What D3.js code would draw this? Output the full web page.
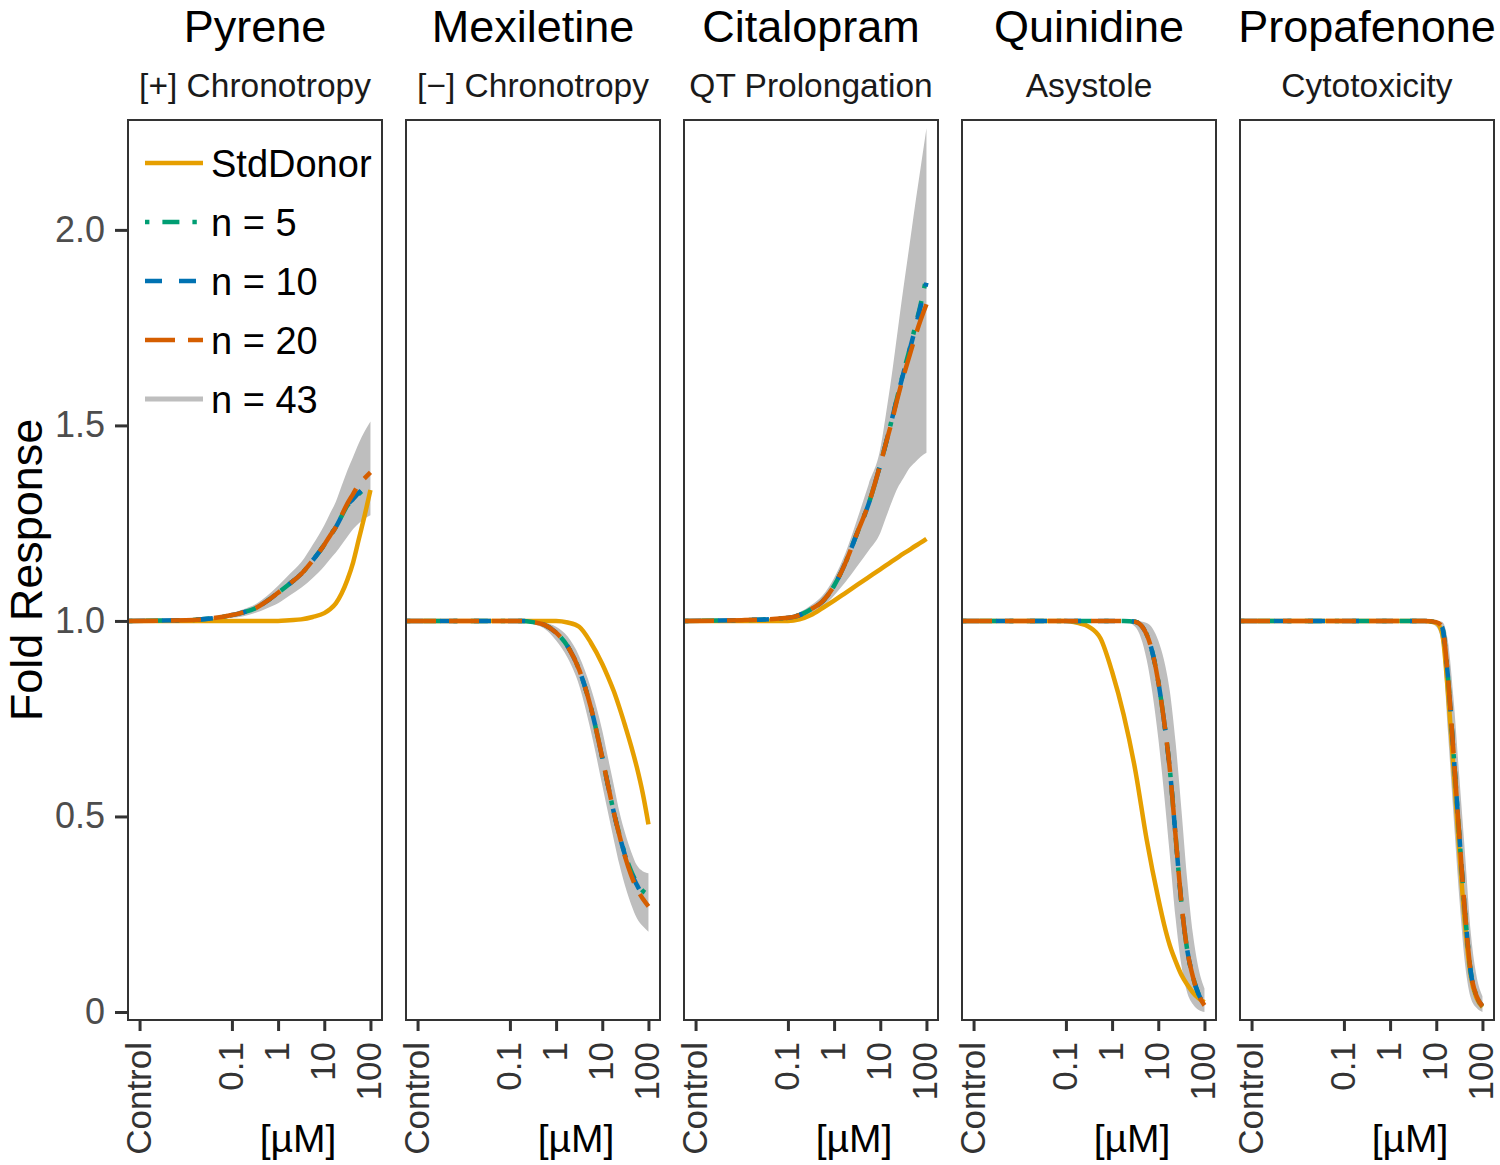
<!DOCTYPE html>
<html><head><meta charset="utf-8">
<script src="https://cdn.jsdelivr.net/npm/d3@7"></script>
<style>
body{margin:0;background:#fff}
svg{display:block}
text{font-family:"Liberation Sans",Arial,Helvetica,sans-serif}
</style>
</head><body>
<svg id="c" width="1500" height="1165"></svg>
<script>
// ---------- data ----------
const drugs = ["Pyrene","Mexiletine","Citalopram","Quinidine","Propafenone"];
const endpoints = ["[+] Chronotropy","[\u2212] Chronotropy","QT Prolongation","Asystole","Cytotoxicity"];
const seriesNames = ["StdDonor","n = 5","n = 10","n = 20","n = 43"];
const xTickValues = [0.001, 0.1, 1, 10, 100];
const xTickLabels = ["Control","0.1","1","10","100"];
const yTickValues = [0, 0.5, 1, 1.5, 2];
const yTickLabels = ["0","0.5","1.0","1.5","2.0"];

// concentration grid (uM)
const conc = [0.000562, 0.01, 0.1, 0.178, 0.316, 0.562, 1, 1.78, 3.16, 5.62, 10, 13.3, 17.8, 23.7, 31.6, 42.2, 56.2, 75, 100];

const pyreneStd = [1,1,1,1,1,1,1,1.002,1.004,1.01,1.02,1.03,1.045,1.07,1.105,1.15,1.21,1.27,1.335];
const pyreneN5  = [1,1.002,1.015,1.022,1.032,1.05,1.072,1.095,1.12,1.155,1.195,1.218,1.24,1.268,1.295,1.31,1.325,1.338,1.345];
const pyreneN10 = [1,1.002,1.015,1.022,1.032,1.05,1.072,1.095,1.12,1.155,1.195,1.218,1.24,1.268,1.296,1.312,1.328,1.341,1.35];
const pyreneN20 = [1,1.002,1.015,1.022,1.032,1.05,1.072,1.095,1.12,1.155,1.195,1.218,1.24,1.27,1.30,1.325,1.35,1.365,1.38];
const pyreneHi  = [1,1.003,1.02,1.03,1.042,1.063,1.09,1.12,1.15,1.195,1.245,1.275,1.305,1.345,1.385,1.42,1.455,1.485,1.51];
const pyreneLo  = [1,1.001,1.008,1.012,1.02,1.032,1.045,1.065,1.085,1.11,1.14,1.158,1.175,1.195,1.215,1.235,1.25,1.262,1.27];

const mexStd = [1,1,1,1,1,1,1,0.996,0.985,0.945,0.89,0.857,0.82,0.777,0.73,0.68,0.625,0.56,0.48];
const mexN5  = [1,1,1,1,0.997,0.99,0.97,0.935,0.875,0.78,0.65,0.58,0.51,0.452,0.40,0.36,0.33,0.31,0.30];
const mexN10 = [1,1,1,1,0.997,0.99,0.97,0.935,0.875,0.78,0.65,0.58,0.51,0.45,0.398,0.355,0.325,0.30,0.29];
const mexN20 = [1,1,1,1,0.997,0.99,0.97,0.935,0.875,0.78,0.65,0.58,0.51,0.45,0.395,0.35,0.315,0.29,0.27];
const mexHi  = [1,1,1,1,1,0.996,0.985,0.96,0.91,0.83,0.72,0.65,0.58,0.51,0.455,0.41,0.375,0.36,0.355];
const mexLo  = [1,1,1,1,0.993,0.98,0.95,0.905,0.835,0.72,0.58,0.51,0.44,0.375,0.32,0.275,0.24,0.22,0.205];

const citStd = [1,1,1,1.004,1.015,1.033,1.052,1.072,1.092,1.112,1.132,1.142,1.152,1.162,1.172,1.181,1.191,1.2,1.21];
const citN5  = [1,1.002,1.008,1.015,1.03,1.05,1.09,1.15,1.225,1.30,1.40,1.455,1.515,1.575,1.635,1.69,1.75,1.81,1.88];
const citN10 = [1,1.002,1.008,1.015,1.03,1.05,1.09,1.15,1.225,1.30,1.40,1.455,1.515,1.575,1.633,1.688,1.745,1.805,1.865];
const citN20 = [1,1.002,1.008,1.015,1.03,1.05,1.09,1.15,1.225,1.30,1.40,1.455,1.51,1.57,1.625,1.675,1.725,1.77,1.81];
const citHi  = [1,1.003,1.012,1.022,1.04,1.065,1.11,1.175,1.26,1.35,1.44,1.53,1.63,1.74,1.85,1.955,2.06,2.16,2.26];
const citLo  = [1,1.001,1.004,1.008,1.02,1.035,1.065,1.1,1.14,1.18,1.225,1.265,1.305,1.34,1.365,1.39,1.405,1.42,1.43];

const quinStd = [1,1,1,0.995,0.985,0.955,0.87,0.76,0.62,0.44,0.29,0.225,0.17,0.13,0.095,0.07,0.05,0.035,0.025];
const quinN5  = [1,1,1,1,1,1,1,1,0.998,0.965,0.845,0.745,0.62,0.45,0.28,0.16,0.09,0.045,0.02];
const quinN10 = [1,1,1,1,1,1,1,1,0.998,0.965,0.845,0.745,0.62,0.45,0.28,0.16,0.09,0.045,0.02];
const quinN20 = [1,1,1,1,1,1,1,1,0.998,0.965,0.845,0.745,0.62,0.45,0.28,0.16,0.09,0.043,0.017];
const quinHi  = [1,1,1,1,1,1,1,1,1,0.995,0.95,0.9,0.82,0.69,0.52,0.34,0.2,0.11,0.06];
const quinLo  = [1,1,1,1,1,1,1,1,0.985,0.9,0.7,0.56,0.4,0.24,0.12,0.05,0.02,0.005,0];

const propStd = [1,1,1,1,1,1,1,1,1,1,0.995,0.97,0.82,0.62,0.41,0.22,0.09,0.035,0.012];
const propN5  = [1,1,1,1,1,1,1,1,1,1,0.997,0.985,0.86,0.66,0.45,0.25,0.1,0.04,0.015];
const propN10 = [1,1,1,1,1,1,1,1,1,1,0.997,0.985,0.86,0.66,0.45,0.25,0.1,0.04,0.015];
const propN20 = [1,1,1,1,1,1,1,1,1,1,0.997,0.985,0.86,0.66,0.45,0.25,0.1,0.04,0.015];
const propHi  = [1,1,1,1,1,1,1,1,1,1,1,0.998,0.95,0.8,0.6,0.4,0.2,0.09,0.04];
const propLo  = [1,1,1,1,1,1,1,1,1,1,0.985,0.94,0.72,0.5,0.29,0.12,0.035,0.01,0];

const panelData = [
  {std: pyreneStd, n5: pyreneN5, n10: pyreneN10, n20: pyreneN20, hi: pyreneHi, lo: pyreneLo},
  {std: mexStd, n5: mexN5, n10: mexN10, n20: mexN20, hi: mexHi, lo: mexLo},
  {std: citStd, n5: citN5, n10: citN10, n20: citN20, hi: citHi, lo: citLo},
  {std: quinStd, n5: quinN5, n10: quinN10, n20: quinN20, hi: quinHi, lo: quinLo},
  {std: propStd, n5: propN5, n10: propN10, n20: propN20, hi: propHi, lo: propLo}
];

// ---------- styles ----------
const lineStyles = [
  {key: "std", color: "#E69F00", dash: null},
  {key: "n5",  color: "#009E73", dash: "4.4,13,17,13"},
  {key: "n10", color: "#0072B2", dash: "17,17"},
  {key: "n20", color: "#D55E00", dash: "30,13"}
];
const ribbonColor = "#bebebe";
const LW = 4.5;

const svg = d3.select("#c");
const W = 254, H = 900, TOP = 120, LEFT0 = 128, STEP = 278;

const x = d3.scaleLog().domain([0.000562, 177.8]).range([0, W]);
const y = d3.scaleLinear().domain([-0.0205, 2.281]).range([H, 0]);

const line = d3.line().x(d => x(d[0])).y(d => y(d[1])).curve(d3.curveMonotoneX);
const area = d3.area().x(d => x(d[0])).y0(d => y(d[1])).y1(d => y(d[2])).curve(d3.curveMonotoneX);

drugs.forEach((drug, i) => {
  const g = svg.append("g").attr("transform", `translate(${LEFT0 + i*STEP},${TOP})`);
  const pd = panelData[i];

  g.append("clipPath").attr("id", "clip"+i)
    .append("rect").attr("x", 0).attr("y", 0).attr("width", W).attr("height", H);

  const plot = g.append("g").attr("clip-path", `url(#clip${i})`);

  // ribbon n=43
  plot.append("path")
    .datum(conc.map((c, k) => [c, pd.lo[k], pd.hi[k]]))
    .attr("d", area)
    .attr("fill", ribbonColor);

  lineStyles.forEach(s => {
    plot.append("path")
      .datum(conc.map((c, k) => [c, pd[s.key][k]]))
      .attr("d", line)
      .attr("fill", "none")
      .attr("stroke", s.color)
      .attr("stroke-width", LW)
      .attr("stroke-dasharray", s.dash)
      .attr("stroke-linejoin", "round");
  });

  // border
  g.append("rect").attr("x", 0).attr("y", 0).attr("width", W).attr("height", H)
    .attr("fill", "none").attr("stroke", "#333").attr("stroke-width", 2);

  // x axis
  const xa = g.append("g").attr("transform", `translate(0,${H})`)
    .call(d3.axisBottom(x).tickValues(xTickValues).tickFormat((d, k) => xTickLabels[k]).tickSize(11).tickPadding(0));
  xa.select(".domain").remove();
  xa.selectAll(".tick line").attr("stroke", "#333").attr("stroke-width", 3);
  xa.selectAll(".tick text")
    .attr("transform", "rotate(-90)")
    .attr("text-anchor", "end")
    .attr("x", -22).attr("y", 0).attr("dy", "0.3em")
    .attr("fill", "#333")
    .style("font-size", "35px");

  // unit label
  g.append("text").attr("x", 170).attr("y", H + 132)
    .attr("text-anchor", "middle").style("font-size", "39px").attr("fill", "#000")
    .text("[\u00B5M]");

  // titles
  g.append("text").attr("x", W/2).attr("y", 42 - TOP)
    .attr("text-anchor", "middle").style("font-size", "45px").attr("fill", "#000")
    .text(drug);
  g.append("text").attr("x", W/2).attr("y", 97 - TOP)
    .attr("text-anchor", "middle").style("font-size", "33.5px").attr("fill", "#1a1a1a")
    .text(endpoints[i]);

  if (i === 0) {
    const ya = g.append("g")
      .call(d3.axisLeft(y).tickValues(yTickValues).tickFormat((d, k) => yTickLabels[k]).tickSize(13).tickPadding(10));
    ya.select(".domain").remove();
    ya.selectAll(".tick line").attr("stroke", "#333").attr("stroke-width", 3);
    ya.selectAll(".tick text").attr("fill", "#4d4d4d").style("font-size", "36px");

    // legend
    const leg = g.append("g");
    const rows = [
      {name: seriesNames[0], color: "#E69F00", dash: null, w: LW},
      {name: seriesNames[1], color: "#009E73", dash: "4.4,13,17,13", w: LW},
      {name: seriesNames[2], color: "#0072B2", dash: "17,17", w: LW},
      {name: seriesNames[3], color: "#D55E00", dash: "30,13", w: LW},
      {name: seriesNames[4], color: ribbonColor, dash: null, w: 5}
    ];
    rows.forEach((r, k) => {
      const cy = 43 + k*59;
      leg.append("line").attr("x1", 17).attr("x2", 75).attr("y1", cy).attr("y2", cy)
        .attr("stroke", r.color).attr("stroke-width", r.w).attr("stroke-dasharray", r.dash);
      leg.append("text").attr("x", 83).attr("y", cy).attr("dy", "0.36em")
        .style("font-size", "38px").attr("fill", "#000").text(r.name);
    });
  }
});

// y axis title
svg.append("text")
  .attr("transform", "translate(42,570) rotate(-90)")
  .attr("text-anchor", "middle").style("font-size", "45px").attr("fill", "#000")
  .text("Fold Response");
</script>
</body></html>
